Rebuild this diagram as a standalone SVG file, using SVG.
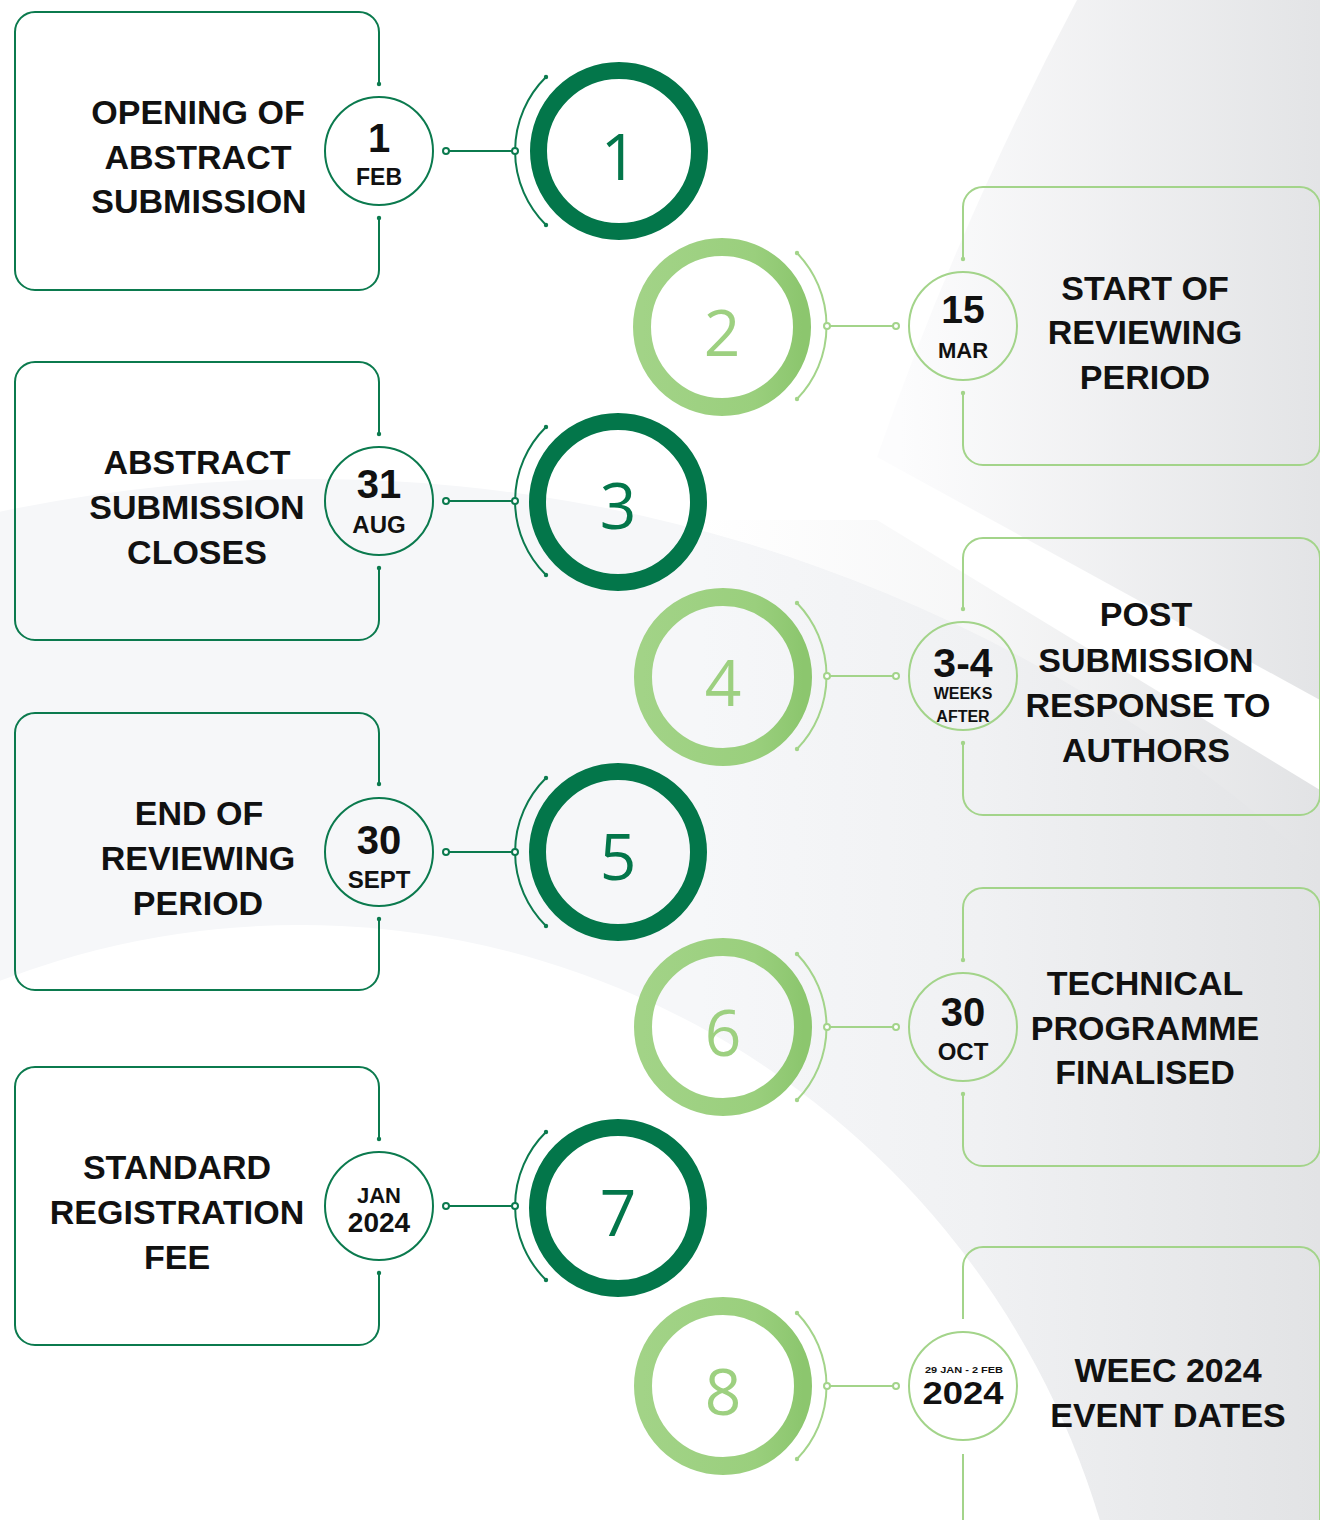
<svg xmlns="http://www.w3.org/2000/svg" width="1320" height="1520" viewBox="0 0 1320 1520">
<defs>
<style>
.lbl{font-family:"Liberation Sans",Arial,sans-serif;font-weight:700;font-size:34px;fill:#111;text-anchor:middle}
.dt{font-family:"Liberation Sans",Arial,sans-serif;font-weight:700;fill:#111;text-anchor:middle}
.num{font-family:"Open Sans","Noto Sans",sans-serif;font-weight:500;font-size:64px;text-anchor:middle}
.dg{stroke:#0b7a4e;stroke-width:2;fill:none}
.lg{stroke:#a3d48a;stroke-width:2;fill:none}
.dgdot{fill:#0b7a4e}
.lgdot{fill:#a3d48a}
.dgo{stroke:#0b7a4e;stroke-width:2;fill:#fff}
.lgo{stroke:#a3d48a;stroke-width:2;fill:#fff}
.ringD{stroke:#03764a;stroke-width:17;fill:none}
.ringL{stroke:url(#ringGrad);stroke-width:18;fill:none}
.nD{fill:#03764a}
.nL{fill:#9dd080}
</style>
<linearGradient id="bgR" gradientUnits="userSpaceOnUse" x1="900" y1="0" x2="1320" y2="0">
<stop offset="0" stop-color="#fcfcfd"/>
<stop offset="1" stop-color="#e3e4e6"/>
</linearGradient>
<linearGradient id="bgL" gradientUnits="userSpaceOnUse" x1="700" y1="0" x2="1320" y2="0">
<stop offset="0" stop-color="#e2e3e5" stop-opacity="0"/>
<stop offset="0.45" stop-color="#e2e3e5" stop-opacity="0.3"/>
<stop offset="1" stop-color="#e2e3e5" stop-opacity="1"/>
</linearGradient>
<linearGradient id="ringGrad" x1="0" y1="0" x2="1" y2="0">
<stop offset="0" stop-color="#a2d387"/>
<stop offset="0.7" stop-color="#9acf7d"/>
<stop offset="1" stop-color="#8cc66e"/>
</linearGradient>
</defs>

<g id="background">
<rect x="0" y="0" width="1320" height="1520" fill="#ffffff"/>
<circle cx="312" cy="1979" r="1500" fill="#f6f7f9"/>
<path d="M1077,0 Q960,220 877,457 L1320,700 L1320,0 Z" fill="url(#bgR)"/>
<path d="M877,520 L1320,790 L1320,1520 L700,1520 L700,520 Z" fill="url(#bgL)"/>
<circle cx="300" cy="1760" r="835" fill="#ffffff"/>
</g>

<g id="connectors">
<line class="dg" x1="449" y1="151" x2="512" y2="151"/>
<path class="dg" d="M546,77 A104 104 0 0 0 546,225"/>
<circle class="dgdot" cx="546" cy="77" r="2.2"/><circle class="dgdot" cx="546" cy="225" r="2.2"/>
<circle class="dgo" cx="446" cy="151" r="3"/><circle class="dgo" cx="515" cy="151" r="3"/>
<line class="lg" x1="830" y1="326" x2="893" y2="326"/>
<path class="lg" d="M797,253 A105 105 0 0 1 797,399"/>
<circle class="lgdot" cx="797" cy="253" r="2.2"/><circle class="lgdot" cx="797" cy="399" r="2.2"/>
<circle class="lgo" cx="827" cy="326" r="3"/><circle class="lgo" cx="896" cy="326" r="3"/>
<line class="dg" x1="449" y1="501" x2="512" y2="501"/>
<path class="dg" d="M546,427 A104 104 0 0 0 546,575"/>
<circle class="dgdot" cx="546" cy="427" r="2.2"/><circle class="dgdot" cx="546" cy="575" r="2.2"/>
<circle class="dgo" cx="446" cy="501" r="3"/><circle class="dgo" cx="515" cy="501" r="3"/>
<line class="lg" x1="830" y1="676" x2="893" y2="676"/>
<path class="lg" d="M797,603 A105 105 0 0 1 797,749"/>
<circle class="lgdot" cx="797" cy="603" r="2.2"/><circle class="lgdot" cx="797" cy="749" r="2.2"/>
<circle class="lgo" cx="827" cy="676" r="3"/><circle class="lgo" cx="896" cy="676" r="3"/>
<line class="dg" x1="449" y1="852" x2="512" y2="852"/>
<path class="dg" d="M546,778 A104 104 0 0 0 546,926"/>
<circle class="dgdot" cx="546" cy="778" r="2.2"/><circle class="dgdot" cx="546" cy="926" r="2.2"/>
<circle class="dgo" cx="446" cy="852" r="3"/><circle class="dgo" cx="515" cy="852" r="3"/>
<line class="lg" x1="830" y1="1027" x2="893" y2="1027"/>
<path class="lg" d="M797,954 A105 105 0 0 1 797,1100"/>
<circle class="lgdot" cx="797" cy="954" r="2.2"/><circle class="lgdot" cx="797" cy="1100" r="2.2"/>
<circle class="lgo" cx="827" cy="1027" r="3"/><circle class="lgo" cx="896" cy="1027" r="3"/>
<line class="dg" x1="449" y1="1206" x2="512" y2="1206"/>
<path class="dg" d="M546,1132 A104 104 0 0 0 546,1280"/>
<circle class="dgdot" cx="546" cy="1132" r="2.2"/><circle class="dgdot" cx="546" cy="1280" r="2.2"/>
<circle class="dgo" cx="446" cy="1206" r="3"/><circle class="dgo" cx="515" cy="1206" r="3"/>
<line class="lg" x1="830" y1="1386" x2="893" y2="1386"/>
<path class="lg" d="M797,1313 A105 105 0 0 1 797,1459"/>
<circle class="lgdot" cx="797" cy="1313" r="2.2"/><circle class="lgdot" cx="797" cy="1459" r="2.2"/>
<circle class="lgo" cx="827" cy="1386" r="3"/><circle class="lgo" cx="896" cy="1386" r="3"/>
</g>

<g id="step1">
<path class="dg" d="M379,84 L379,32 A20 20 0 0 0 359,12 L35,12 A20 20 0 0 0 15,32 L15,270 A20 20 0 0 0 35,290 L359,290 A20 20 0 0 0 379,270 L379,218"/>
<circle class="dgdot" cx="379" cy="84" r="2.2"/><circle class="dgdot" cx="379" cy="218" r="2.2"/>
<text class="lbl" x="198" y="124">OPENING OF</text>
<text class="lbl" x="198" y="169">ABSTRACT</text>
<text class="lbl" x="199" y="213">SUBMISSION</text>
<circle class="dg" cx="379" cy="151" r="54"/>
<text class="dt" x="379" y="152" font-size="40">1</text>
<text class="dt" x="379" y="185" font-size="23">FEB</text>
<circle class="ringD" cx="619" cy="151" r="80.5"/>
<text class="num nD" x="619" y="180">1</text>
</g>

<g id="step2">
<path class="lg" d="M963,259 L963,207 A20 20 0 0 1 983,187 L1300,187 A20 20 0 0 1 1320,207 L1320,445 A20 20 0 0 1 1300,465 L983,465 A20 20 0 0 1 963,445 L963,393"/>
<circle class="lgdot" cx="963" cy="259" r="2.2"/><circle class="lgdot" cx="963" cy="393" r="2.2"/>
<text class="lbl" x="1145" y="300">START OF</text>
<text class="lbl" x="1145" y="344">REVIEWING</text>
<text class="lbl" x="1145" y="389">PERIOD</text>
<circle class="lg" cx="963" cy="326" r="54"/>
<text class="dt" x="963" y="323" font-size="39">15</text>
<text class="dt" x="963" y="358" font-size="22">MAR</text>
<circle class="ringL" cx="722" cy="327" r="80"/>
<text class="num nL" x="722" y="356">2</text>
</g>

<g id="step3">
<path class="dg" d="M379,434 L379,382 A20 20 0 0 0 359,362 L35,362 A20 20 0 0 0 15,382 L15,620 A20 20 0 0 0 35,640 L359,640 A20 20 0 0 0 379,620 L379,568"/>
<circle class="dgdot" cx="379" cy="434" r="2.2"/><circle class="dgdot" cx="379" cy="568" r="2.2"/>
<text class="lbl" x="197" y="474">ABSTRACT</text>
<text class="lbl" x="197" y="519">SUBMISSION</text>
<text class="lbl" x="197" y="564">CLOSES</text>
<circle class="dg" cx="379" cy="501" r="54"/>
<text class="dt" x="379" y="498" font-size="40">31</text>
<text class="dt" x="379" y="533" font-size="24">AUG</text>
<circle class="ringD" cx="618" cy="502" r="80.5"/>
<text class="num nD" x="618" y="529">3</text>
</g>

<g id="step4">
<path class="lg" d="M963,609 L963,558 A20 20 0 0 1 983,538 L1300,538 A20 20 0 0 1 1320,558 L1320,795 A20 20 0 0 1 1300,815 L983,815 A20 20 0 0 1 963,795 L963,743"/>
<circle class="lgdot" cx="963" cy="609" r="2.2"/><circle class="lgdot" cx="963" cy="743" r="2.2"/>
<text class="lbl" x="1146" y="626">POST</text>
<text class="lbl" x="1146" y="672">SUBMISSION</text>
<text class="lbl" x="1148" y="717">RESPONSE TO</text>
<text class="lbl" x="1146" y="762">AUTHORS</text>
<circle class="lg" cx="963" cy="676" r="54"/>
<text class="dt" x="963" y="677" font-size="41">3-4</text>
<text class="dt" x="963" y="699" font-size="16">WEEKS</text>
<text class="dt" x="963" y="722" font-size="16">AFTER</text>
<circle class="ringL" cx="723" cy="677" r="80"/>
<text class="num nL" x="723" y="706">4</text>
</g>

<g id="step5">
<path class="dg" d="M379,784 L379,733 A20 20 0 0 0 359,713 L35,713 A20 20 0 0 0 15,733 L15,970 A20 20 0 0 0 35,990 L359,990 A20 20 0 0 0 379,970 L379,919"/>
<circle class="dgdot" cx="379" cy="784" r="2.2"/><circle class="dgdot" cx="379" cy="919" r="2.2"/>
<text class="lbl" x="199" y="825">END OF</text>
<text class="lbl" x="198" y="870">REVIEWING</text>
<text class="lbl" x="198" y="915">PERIOD</text>
<circle class="dg" cx="379" cy="852" r="54"/>
<text class="dt" x="379" y="854" font-size="40">30</text>
<text class="dt" x="379" y="888" font-size="24">SEPT</text>
<circle class="ringD" cx="618" cy="852" r="80.5"/>
<text class="num nD" x="618" y="880">5</text>
</g>

<g id="step6">
<path class="lg" d="M963,960 L963,908 A20 20 0 0 1 983,888 L1300,888 A20 20 0 0 1 1320,908 L1320,1146 A20 20 0 0 1 1300,1166 L983,1166 A20 20 0 0 1 963,1146 L963,1094"/>
<circle class="lgdot" cx="963" cy="960" r="2.2"/><circle class="lgdot" cx="963" cy="1094" r="2.2"/>
<text class="lbl" x="1145" y="995">TECHNICAL</text>
<text class="lbl" x="1145" y="1040">PROGRAMME</text>
<text class="lbl" x="1145" y="1084">FINALISED</text>
<circle class="lg" cx="963" cy="1027" r="54"/>
<text class="dt" x="963" y="1026" font-size="40">30</text>
<text class="dt" x="963" y="1060" font-size="24">OCT</text>
<circle class="ringL" cx="723" cy="1027" r="80"/>
<text class="num nL" x="723" y="1056">6</text>
</g>

<g id="step7">
<path class="dg" d="M379,1139 L379,1087 A20 20 0 0 0 359,1067 L35,1067 A20 20 0 0 0 15,1087 L15,1325 A20 20 0 0 0 35,1345 L359,1345 A20 20 0 0 0 379,1325 L379,1273"/>
<circle class="dgdot" cx="379" cy="1139" r="2.2"/><circle class="dgdot" cx="379" cy="1273" r="2.2"/>
<text class="lbl" x="177" y="1179">STANDARD</text>
<text class="lbl" x="177" y="1224">REGISTRATION</text>
<text class="lbl" x="177" y="1269">FEE</text>
<circle class="dg" cx="379" cy="1206" r="54"/>
<text class="dt" x="379" y="1203" font-size="22">JAN</text>
<text class="dt" x="379" y="1232" font-size="28">2024</text>
<circle class="ringD" cx="618" cy="1208" r="80.5"/>
<text class="num nD" x="618" y="1236">7</text>
</g>

<g id="step8">
<path class="lg" d="M963,1319 L963,1267 A20 20 0 0 1 983,1247 L1300,1247 A20 20 0 0 1 1320,1267 L1320,1540 M963,1454 L963,1540"/>
<text class="lbl" x="1168" y="1382">WEEC 2024</text>
<text class="lbl" x="1168" y="1427">EVENT DATES</text>
<circle class="lg" cx="963" cy="1386" r="54"/>
<text class="dt" x="964" y="1373" font-size="9" textLength="78" lengthAdjust="spacingAndGlyphs">29 JAN - 2 FEB</text>
<text class="dt" x="963" y="1404" font-size="31" textLength="81" lengthAdjust="spacingAndGlyphs">2024</text>
<circle class="ringL" cx="723" cy="1386" r="80"/>
<text class="num nL" x="723" y="1415">8</text>
</g>
</svg>
